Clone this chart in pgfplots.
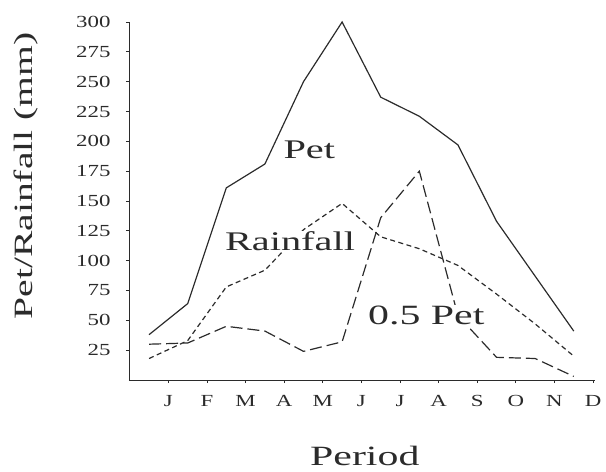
\documentclass[border=0pt]{standalone}
\usepackage{fontspec}
\setmainfont{Liberation Serif}
\newfontfamily\lblfont[FakeStretch=1.5]{Liberation Serif}
\newfontfamily\tickfont[FakeStretch=1.35]{Liberation Serif}
\usepackage{pgfplots}
\pgfplotsset{compat=1.18}
\definecolor{ink}{HTML}{2B2B2B}
\begin{document}
\begin{tikzpicture}
\begin{axis}[
  scale only axis, width=466bp, height=358bp,
  xmin=-0.52, xmax=11.55, ymin=0, ymax=300,
  axis x line*=bottom, axis y line*=left,
  axis line style={ink, line width=1pt, -},
  xtick={0.5,1.5,...,11.5}, xticklabels={J,F,M,A,M,J,J,A,S,O,N,D},
  ytick={25,50,...,300},
  tick align=outside, major tick length=3bp,
  tick style={ink, line width=0.8pt},
  /pgf/number format/assume math mode=true,
  yticklabel style={font=\tickfont\fontsize{17}{17}\selectfont, text=ink, xshift=-12bp},
  xticklabel style={font=\tickfont\fontsize{17}{17}\selectfont, text=ink, yshift=-9bp},
  xlabel={Period}, ylabel={Pet/Rainfall (mm)},
  xlabel style={font=\lblfont\fontsize{28}{28}\selectfont, text=ink, at={(axis description cs:0.506,-0.212)}, anchor=center},
  ylabel style={font=\lblfont\fontsize{26.5}{26.5}\selectfont, text=ink, at={(axis description cs:-0.222,0.57)}, anchor=center},
  clip=false,
]
% Pet (solid)
\addplot[ink, line width=1.2pt] coordinates {
(0,38) (1,64) (2,161) (3,181) (4,250) (5,300) (6,237) (7,221) (8,197) (9,133) (10,87) (11,41)};
% short dashed
\addplot[ink, line width=1.2pt, dash pattern=on 5bp off 3.5bp] coordinates {
(0,18) (1,33) (2,78) (3,92) (4,126) (5,148) (6,120) (7,110) (8,96) (9,72) (10,47) (11,20)};
% long dashed
\addplot[ink, line width=1.2pt, dash pattern=on 12bp off 5bp] coordinates {
(0,30) (1,31) (2,45) (3,41) (4,24) (5,32) (6,136) (7,175) (8,54) (9,19) (10,18) (11,3)};
\node[font=\lblfont\fontsize{27}{27}\selectfont, text=ink] at (axis cs:4.15,193) {Pet};
\node[font=\lblfont\fontsize{27}{27}\selectfont, text=ink, fill=white, inner sep=1pt] at (axis cs:3.65,116) {Rainfall};
\node[font=\lblfont\fontsize{28}{28}\selectfont, text=ink, fill=white, inner sep=1pt] at (axis cs:7.18,54) {0.5 Pet};
\end{axis}
\path ([xshift=-129bp,yshift=-92bp]current axis.south west) rectangle ([xshift=11bp,yshift=22bp]current axis.north east);
\end{tikzpicture}
\end{document}
